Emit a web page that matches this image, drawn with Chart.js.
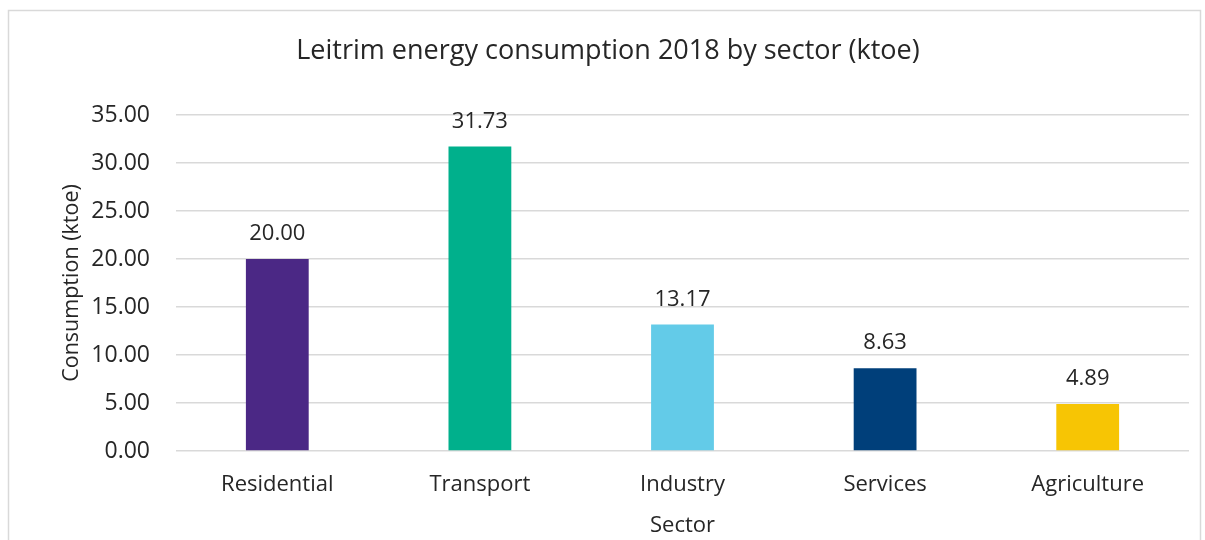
<!DOCTYPE html>
<html>
<head>
<meta charset="utf-8">
<script src="https://cdn.jsdelivr.net/npm/chart.js@4/dist/chart.umd.min.js"></script>
<style>
  html, body { margin: 0; padding: 0; background: #fff; }
  #wrap { width: 1205px; height: 540px; }
</style>
</head>
<body>
<div id="wrap"><canvas id="chart" width="1205" height="540"></canvas></div>
<script>
const sectors = ["Residential", "Transport", "Industry", "Services", "Agriculture"];
const consumption = [20.00, 31.73, 13.17, 8.63, 4.89];
const barColors = ["#4B2885", "#00B08C", "#63CBE8", "#003F7A", "#F7C504"];

const FONT = "'Open Sans', sans-serif";
Chart.defaults.font.family = FONT;
Chart.defaults.color = "#262626";

// light grey frame round the whole chart
const framePlugin = {
  id: "frame",
  beforeDraw(chart) {
    const ctx = chart.ctx;
    ctx.save();
    ctx.fillStyle = "#fff";
    ctx.fillRect(0, 0, chart.width, chart.height);
    ctx.strokeStyle = "#d9d9d9";
    ctx.lineWidth = 1.5;
    ctx.strokeRect(8.5, 10.5, 1192, 600);
    ctx.restore();
  },
};

// value labels above each bar
const valueLabels = {
  id: "valueLabels",
  afterDatasetsDraw(chart) {
    const ctx = chart.ctx;
    const meta = chart.getDatasetMeta(0);
    ctx.save();
    ctx.font = "22px " + FONT;
    ctx.fillStyle = "#262626";
    ctx.textAlign = "center";
    ctx.textBaseline = "middle";
    meta.data.forEach((bar, i) => {
      ctx.fillText(consumption[i].toFixed(2), bar.x, bar.y - 25);
    });
    ctx.restore();
  },
};

new Chart(document.getElementById("chart"), {
  type: "bar",
  data: {
    labels: sectors,
    datasets: [
      {
        data: consumption,
        backgroundColor: barColors,
        borderWidth: 0,
        barPercentage: 0.62,
        categoryPercentage: 0.5,
      },
    ],
  },
  options: {
    responsive: false,
    animation: false,
    layout: { padding: { left: 27, right: 16, top: 0, bottom: 0 } },
    plugins: {
      legend: { display: false },
      tooltip: { enabled: false },
      title: {
        display: true,
        text: "Leitrim energy consumption 2018 by sector (ktoe)",
        font: { size: 27, weight: "normal" },
        color: "#262626",
        padding: { top: 35, bottom: 47.6 },
      },
    },
    scales: {
      x: {
        grid: { display: false },
        border: { display: false },
        ticks: { font: { size: 22 }, padding: 13, color: "#262626" },
        title: {
          display: true,
          text: "Sector",
          font: { size: 22 },
          color: "#262626",
          padding: { top: 0, bottom: 1 },
        },
        afterFit(scale) { scale.height = 89; },
      },
      y: {
        min: 0,
        max: 35,
        grid: { color: "#d9d9d9", lineWidth: 1.5, drawTicks: false },
        border: { display: false },
        ticks: {
          stepSize: 5,
          font: { size: 23 },
          padding: 26,
          color: "#262626",
          callback: (v) => v.toFixed(2),
        },
        title: {
          display: true,
          text: "Consumption (ktoe)",
          font: { size: 21.5 },
          color: "#262626",
          padding: { top: 32, bottom: 0 },
        },
        afterFit(scale) { scale.width = 149; },
      },
    },
  },
  plugins: [framePlugin, valueLabels],
});
</script>
</body>
</html>
